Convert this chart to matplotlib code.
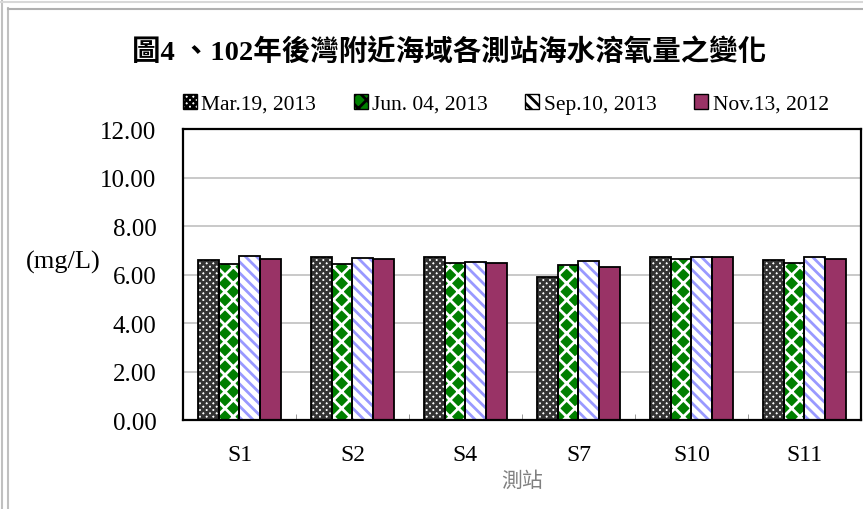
import numpy as np
import matplotlib
matplotlib.use("Agg")
import matplotlib.pyplot as plt
from matplotlib.patches import Patch
from matplotlib.lines import Line2D

plt.rcParams['font.family'] = ['Liberation Serif', 'Noto Sans CJK TC', 'DejaVu Sans']
plt.rcParams['hatch.linewidth'] = 2.0

# data
stations = ["S1", "S2", "S4", "S7", "S10", "S11"]
series_names = ["Mar.19, 2013", "Jun. 04, 2013", "Sep.10, 2013", "Nov.13, 2012"]
mar19 = [6.61, 6.71, 6.71, 5.88, 6.71, 6.61]
jun04 = [6.43, 6.42, 6.47, 6.39, 6.64, 6.47]
sep10 = [6.78, 6.68, 6.53, 6.54, 6.71, 6.71]
nov13 = [6.64, 6.64, 6.47, 6.31, 6.71, 6.64]
yticks = [0, 2, 4, 6, 8, 10, 12]

# (face, hatch colour, hatch)
styles = [("white", "#333333", "xxxxx"),
          ("#007f00", "white", "xx"),
          ("white", "#9999ff", "\\\\\\"),
          ("#993366", "#993366", "")]

fig = plt.figure(figsize=(8.63, 5.10), dpi=100)
ax = fig.add_axes([0.212, 0.1745, 0.7855, 0.5705])

x = np.arange(len(stations))
bw = 0.183
allvals = [mar19, jun04, sep10, nov13]
for i, vals in enumerate(allvals):
    face, hc, hatch = styles[i]
    pos = x + (i - 1.5) * bw
    ax.bar(pos, vals, bw, color=face, edgecolor=hc, hatch=hatch, linewidth=0, zorder=2)
    ax.bar(pos, vals, bw, fill=False, edgecolor="black", linewidth=1.3, zorder=3)

ax.set_xlim(-0.5, 5.5)
ax.set_ylim(0, 12)
ax.set_yticks(yticks)
ax.set_yticklabels(["%.2f" % v for v in yticks], fontsize=18)
ax.set_xticks(x)
ax.set_xticklabels(stations, fontsize=17)
ax.tick_params(axis="x", length=0, pad=17)
ax.tick_params(axis="y", length=0, pad=19)
ax.set_xticks(x[:-1] + 0.5, minor=True)
ax.tick_params(axis="x", which="minor", direction="in", length=4, color="#888888")
ax.grid(axis="y", color="#c0c0c0", linewidth=1.2, zorder=0)
ax.set_axisbelow(True)
for s in ax.spines.values():
    s.set_linewidth(1.6)
    s.set_color("black")

ax.set_xlabel("測站", fontsize=15, color="#808080", labelpad=3,
              family=['Noto Sans CJK TC', 'DejaVu Sans'])
fig.text(0.073, 0.486, "(mg/L)", fontsize=19, ha="center", va="center")

fig.text(0.52, 0.898, "圖4 、102年後灣附近海域各測站海水溶氧量之變化", fontsize=20.5,
         fontweight="bold", ha="center", va="center")

handles = []
for face, hc, hatch in styles:
    handles.append(Patch(facecolor=face, edgecolor="black", hatch=hatch, linewidth=1))
fig.legend(handles, series_names, loc="center", bbox_to_anchor=(0.586, 0.794), ncol=4,
           frameon=False, fontsize=15.5, handlelength=0.65, handleheight=0.65,
           handletextpad=0.2, columnspacing=1.75)

# outer frame lines of the picture
fig.add_artist(Line2D([0.002, 0.002], [0, 1], color="#c0c0c0", lw=1.5))
fig.add_artist(Line2D([0.009, 0.009], [0, 0.982], color="#c0c0c0", lw=1.5))
fig.add_artist(Line2D([0, 1], [0.994, 0.994], color="#d8d8d8", lw=1.5))
fig.add_artist(Line2D([0.009, 1], [0.981, 0.981], color="#b0b0b0", lw=1.5))

fig.savefig("out.png", dpi=100)
